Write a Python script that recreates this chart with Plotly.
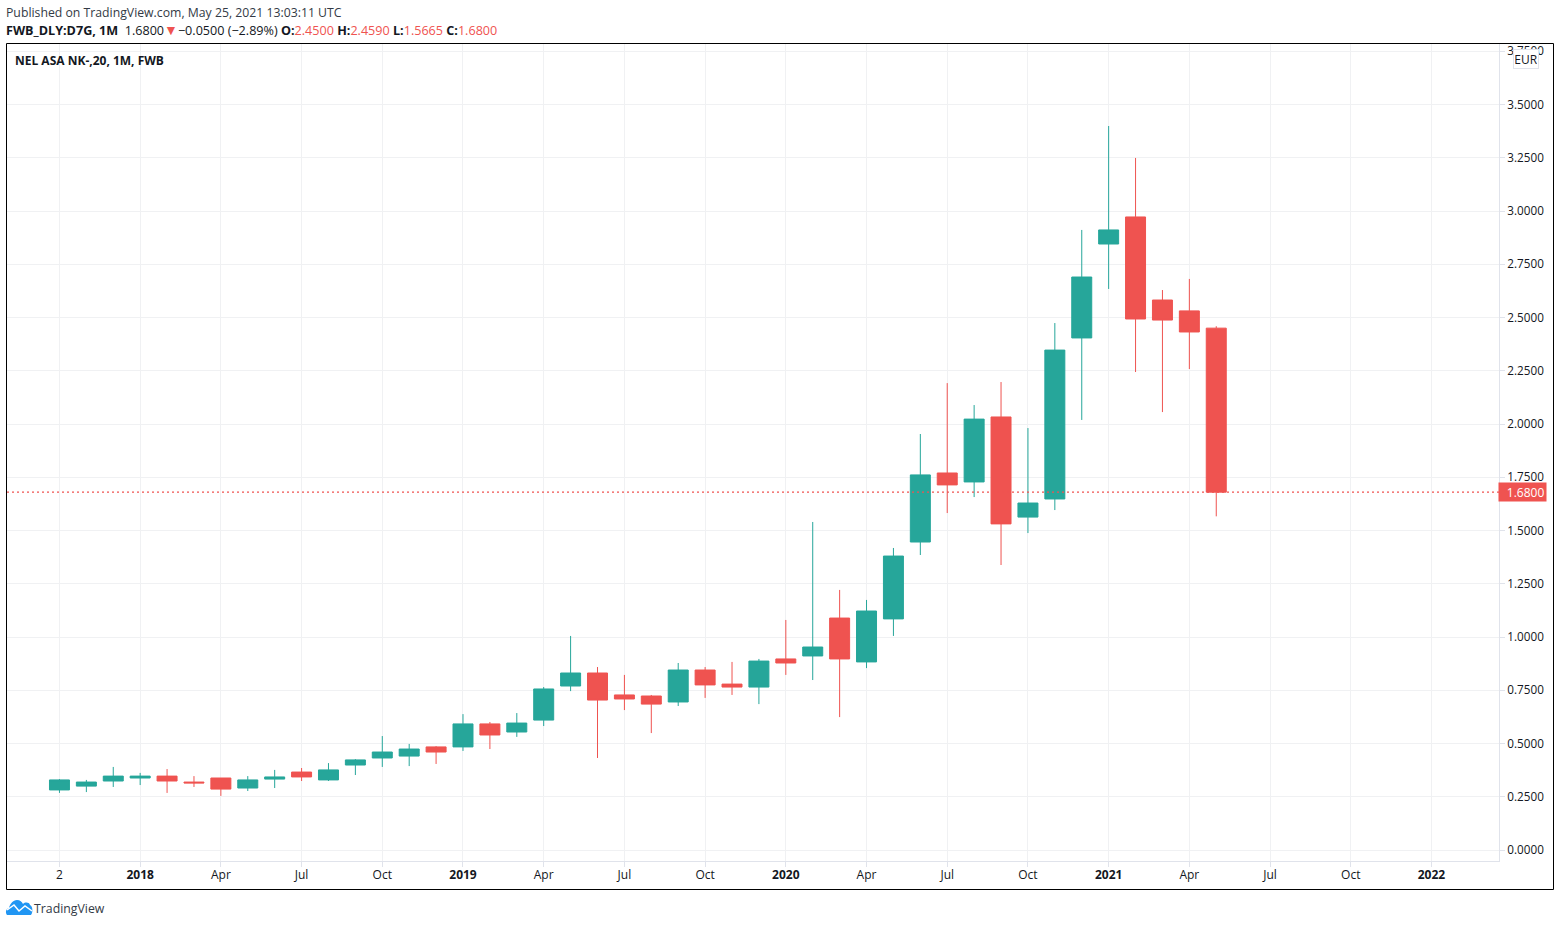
import plotly.graph_objects as go

# monthly candles, Oct 2017 - May 2021
candle_idx = list(range(44))
open_vals = [.282, .300, .324, .338, .347, .319, .338, .291, .333, .366, .329, .399,
             .432, .441, .484, .484, .592, .554, .610, .770, .831, .728, .723, .695,
             .845, .779, .765, .897, .911, 1.089, .883, 1.085, 1.446, 1.770, 1.728, 2.033,
             1.563, 1.648, 2.404, 2.845, 2.972, 2.582, 2.531, 2.4500]
high_vals = [.333, .329, .390, .362, .380, .347, .338, .347, .376, .385, .408, .427,
             .535, .498, .488, .638, .601, .643, .765, 1.005, .859, .822, .728, .878,
             .859, .883, .897, 1.080, 1.540, 1.221, 1.174, 1.418, 1.953, 2.192, 2.089, 2.197,
             1.981, 2.474, 2.911, 3.399, 3.249, 2.629, 2.681, 2.4590]
low_vals = [.268, .272, .296, .305, .268, .296, .254, .277, .291, .324, .324, .352,
            .390, .394, .404, .465, .474, .531, .582, .746, .432, .657, .549, .676,
            .714, .728, .685, .822, .798, .624, .854, 1.005, 1.385, 1.582, 1.657, 1.338,
            1.488, 1.596, 2.019, 2.634, 2.244, 2.056, 2.258, 1.5665]
close_vals = [.329, .319, .347, .347, .324, .315, .286, .329, .343, .343, .376, .423,
              .460, .474, .460, .592, .540, .596, .756, .831, .704, .709, .685, .845,
              .775, .765, .887, .878, .953, .897, 1.122, 1.380, 1.761, 1.714, 2.023, 1.531,
              1.629, 2.347, 2.690, 2.911, 2.493, 2.488, 2.432, 1.6800]

tick_pos = [0, 3, 6, 9, 12, 15, 18, 21, 24, 27, 30, 33, 36, 39, 42, 45, 48, 51]
tick_labels = ['2', '<b>2018</b>', 'Apr', 'Jul', 'Oct', '<b>2019</b>', 'Apr', 'Jul', 'Oct',
               '<b>2020</b>', 'Apr', 'Jul', 'Oct', '<b>2021</b>', 'Apr', 'Jul', 'Oct', '<b>2022</b>']
price_ticks = [0, .25, .5, .75, 1, 1.25, 1.5, 1.75, 2, 2.25, 2.5, 2.75, 3, 3.25, 3.5, 3.75]

GREEN = '#26a69a'
RED = '#ef5350'
GRID = '#f0f1f3'
AXIS = '#e0e3eb'
TEXT = '#131722'

W, H = 1560, 926
L, R, T, B = 7, 1499, 44, 861


def px(x):
    return (x - L) / (R - L)


def py(y):
    return (B - y) / (B - T)


def note(text, x, y, size=12, color=TEXT, family='Open Sans', **kw):
    fig.add_annotation(text=text, x=px(x), y=py(y), xref='paper', yref='paper', showarrow=False,
                       xanchor='left', yanchor='middle', align=kw.pop('align', 'left'),
                       font=dict(family=family, size=size, color=color), **kw)


fig = go.Figure(go.Candlestick(
    x=candle_idx, open=open_vals, high=high_vals, low=low_vals, close=close_vals,
    whiskerwidth=0,
    increasing=dict(line=dict(color=GREEN, width=1), fillcolor=GREEN),
    decreasing=dict(line=dict(color=RED, width=1), fillcolor=RED),
    showlegend=False,
))

fig.update_layout(
    width=W, height=H,
    margin=dict(l=L, r=W - R, t=T, b=H - B, pad=0),
    paper_bgcolor='white', plot_bgcolor='white',
    boxgap=0.257, boxgroupgap=0,
    font=dict(family='Open Sans', size=11, color=TEXT),
    xaxis=dict(
        range=[-1.95, 53.51], rangeslider=dict(visible=False), tickmode='array',
        tickvals=tick_pos, ticktext=tick_labels, showgrid=True, gridcolor=GRID, gridwidth=1,
        zeroline=False, showline=True, linecolor=AXIS, ticks='outside', ticklen=5, tickcolor=AXIS,
        tickfont=dict(size=12, color=TEXT), ticklabelstandoff=-2,
    ),
    yaxis=dict(
        range=[-0.0516, 3.784], side='right', tickmode='array', tickvals=price_ticks,
        tickformat='.4f', showgrid=True, gridcolor=GRID, gridwidth=1, zeroline=False,
        showline=True, linecolor=AXIS, ticks='outside', ticklen=5, tickcolor=AXIS,
        tickfont=dict(size=11.7, color=TEXT),
    ),
)

# outer frame around chart and axes
fig.add_shape(type='rect', xref='paper', yref='paper', x0=px(6.5), x1=px(1553.5), y0=py(889.5), y1=py(43.5),
              line=dict(color='black', width=1), layer='above')
# last price line
fig.add_shape(type='line', xref='paper', yref='y', x0=0, x1=1, y0=close_vals[-1], y1=close_vals[-1],
              line=dict(color=RED, width=1.3, dash='2px,3px'), layer='above')
# logo
fig.add_shape(type='path', xref='paper', yref='paper', xsizemode='pixel', ysizemode='pixel',
              xanchor=px(6), yanchor=py(915),
              path='M1,0 C-1,3 0,6 3,7 C4,11 7,15 11,15 C14,15 16,13 17,11 C19,13 23,13 24,10 C27,9 27,2 25,0 Z',
              fillcolor='#2196f3', line=dict(width=0), layer='above')
fig.add_shape(type='path', xref='paper', yref='paper', xsizemode='pixel', ysizemode='pixel',
              xanchor=px(6), yanchor=py(915),
              path='M1,5 L8,10 L13,4 L19,9 L26,4',
              line=dict(color='white', width=1.5), layer='above')

# header lines
note('Published on TradingView.com, May 25, 2021 13:03:11 UTC', 4, 13, size=12.25, color='#333a45')
red = '<span style="color:#ef5350">%s</span>'
note('<b>FWB_DLY:D7G, 1M</b>&nbsp;&nbsp;1.6800<span style="color:#ef5350;font-size:14px">▼</span>−0.0500 (−2.89%) '
     '<b>O:</b>' + red % '2.4500' + '&nbsp;<b>H:</b>' + red % '2.4590' + '&nbsp;'
     '<b>L:</b>' + red % '1.5665' + '&nbsp;<b>C:</b>' + red % '1.6800',
     4, 29.3, size=12.6)
note('<b>NEL ASA NK-,20, 1M, FWB</b>', 13, 60.7)
note('TradingView', 32, 908, size=12.3, color='#333a45')

# axis badges
note('EUR', 1513, 59, size=12, bgcolor='white', bordercolor=AXIS, borderwidth=1, borderpad=1,
     width=22, height=16, align='center')
note('&nbsp;&nbsp;1.6800', 1498, 492, size=12, color='white', bgcolor=RED, borderpad=1,
     width=45, height=16, align='center')

fig.write_html('out.html', post_script="document.body.style.margin='0'",
               config=dict(displayModeBar=False))
